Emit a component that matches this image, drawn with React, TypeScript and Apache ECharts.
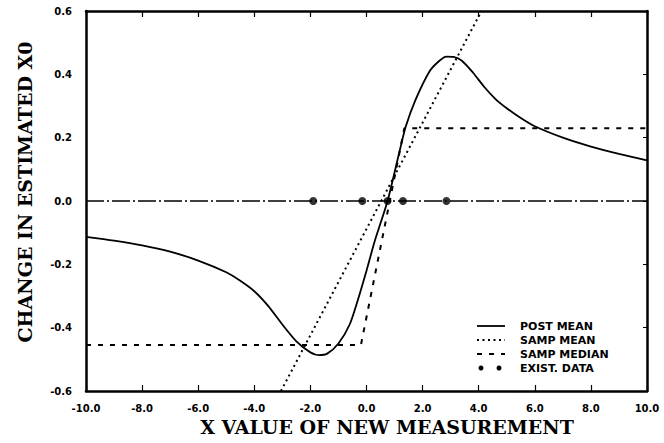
import React, { useEffect, useRef } from "react";
import * as echarts from "echarts";

const xTickLabels = ["-10.0", "-8.0", "-6.0", "-4.0", "-2.0", "0.0", "2.0", "4.0", "6.0", "8.0", "10.0"];
const yTickLabels = ["-0.6", "-0.4", "-0.2", "0.0", "0.2", "0.4", "0.6"];

const postMeanX = [-10, -9, -8, -7, -6, -5, -4.5, -4, -3.5, -3, -2.5, -2, -1.7, -1.4, -1, -0.6, -0.3, 0, 0.3, 0.75, 1.2, 1.4, 1.75, 2.25, 2.6, 2.85, 3.1, 3.4, 3.8, 4.2, 4.6, 5, 5.5, 6, 7, 8, 9, 10];
const postMeanY = [-0.113, -0.125, -0.14, -0.16, -0.188, -0.225, -0.252, -0.285, -0.332, -0.39, -0.443, -0.478, -0.487, -0.482, -0.45, -0.39, -0.31, -0.22, -0.125, 0, 0.165, 0.235, 0.32, 0.41, 0.443, 0.456, 0.455, 0.443, 0.405, 0.36, 0.322, 0.293, 0.262, 0.236, 0.2, 0.172, 0.149, 0.128];

const sampMeanX = [-3.05, 4.1];
const sampMeanY = [-0.6, 0.6];

const sampMedianX = [-10, -0.2, 1.35, 10];
const sampMedianY = [-0.455, -0.455, 0.23, 0.23];

const existDataX = [-1.9, -0.15, 0.75, 1.3, 2.85];
const existDataY = [0, 0, 0, 0, 0];

const zeroLineX = [-10, 10];
const zeroLineY = [0, 0];

const legendLabels = ["POST MEAN", "SAMP MEAN", "SAMP MEDIAN", "EXIST. DATA"];
const xTitle = "X VALUE OF NEW MEASUREMENT";
const yTitle = "CHANGE IN ESTIMATED X0";

const zip = (xs: number[], ys: number[]) => xs.map((x, i) => [x, ys[i]]);

export default function App() {
  const ref = useRef<HTMLDivElement>(null);
  useEffect(() => {
    if (!ref.current) return;
    const chart = echarts.init(ref.current, undefined, { renderer: "svg" });
    const tickFont = { fontFamily: "DejaVu Sans", fontWeight: "bold" as const, fontSize: 10, color: "#000" };
    const titleFontCss = "bold 19px 'DejaVu Serif'";
    const lx1 = 477, lx2 = 505, ltx = 520;
    const rows = [326, 340, 354, 368];
    const graphics: any[] = [
      { type: "line", shape: { x1: lx1, y1: rows[0], x2: lx2, y2: rows[0] }, style: { stroke: "#000", lineWidth: 1.8 } },
      { type: "line", shape: { x1: lx1, y1: rows[1], x2: lx2, y2: rows[1] }, style: { stroke: "#000", lineWidth: 2, lineDash: [2, 3.5] } },
      { type: "line", shape: { x1: lx1, y1: rows[2], x2: lx2, y2: rows[2] }, style: { stroke: "#000", lineWidth: 2, lineDash: [5, 7] } },
      { type: "circle", shape: { cx: lx1 + 4, cy: rows[3], r: 2.5 }, style: { fill: "#000" } },
      { type: "circle", shape: { cx: lx2 - 6, cy: rows[3], r: 2.5 }, style: { fill: "#000" } },
      ...legendLabels.map((t, i) => ({
        type: "text",
        x: ltx,
        y: rows[i],
        style: { text: t, fill: "#000", font: "bold 11px 'DejaVu Sans'", verticalAlign: "middle", align: "left" },
      })),
      {
        type: "text", x: 387, y: 427,
        style: { text: xTitle, fill: "#000", font: titleFontCss, align: "center", verticalAlign: "middle" },
      },
      {
        type: "text", x: 25, y: 192, rotation: Math.PI / 2,
        style: { text: yTitle, fill: "#000", font: titleFontCss, align: "center", verticalAlign: "middle" },
      },
    ];
    chart.setOption({
      animation: false,
      backgroundColor: "#fff",
      grid: { left: 86, right: 17, top: 11, bottom: 52 },
      xAxis: [
        {
          type: "value", min: -10, max: 10, interval: 2,
          axisLine: { show: true, onZero: false, lineStyle: { color: "#000", width: 2.5 } },
          axisTick: { show: true, inside: true, length: 6, lineStyle: { color: "#000", width: 1.2 } },
          axisLabel: { ...tickFont, margin: 12, formatter: (v: number) => xTickLabels[Math.round((v + 10) / 2)] ?? "" },
          splitLine: { show: false },
        },
        {
          type: "value", position: "top", min: -10, max: 10, interval: 2,
          axisLine: { show: true, onZero: false, lineStyle: { color: "#000", width: 2.5 } },
          axisTick: { show: true, inside: true, length: 6, lineStyle: { color: "#000", width: 1.2 } },
          axisLabel: { show: false }, splitLine: { show: false },
        },
      ],
      yAxis: [
        {
          type: "value", min: -0.6, max: 0.6, interval: 0.2,
          axisLine: { show: true, onZero: false, lineStyle: { color: "#000", width: 2.5 } },
          axisTick: { show: false },
          axisLabel: { ...tickFont, margin: 14, formatter: (v: number) => yTickLabels[Math.round((v + 0.6) / 0.2)] ?? "" },
          splitLine: { show: false },
        },
        {
          type: "value", position: "right", min: -0.6, max: 0.6, interval: 0.2,
          axisLine: { show: true, onZero: false, lineStyle: { color: "#000", width: 2.5 } },
          axisTick: { show: true, inside: true, length: 4, lineStyle: { color: "#000", width: 1 } },
          axisLabel: { show: false }, splitLine: { show: false },
        },
      ],
      series: [
        {
          name: "zero", type: "line", data: zip(zeroLineX, zeroLineY), symbol: "none",
          lineStyle: { color: "#000", width: 1.3, type: [18, 3, 2, 3] }, silent: true,
        },
        {
          name: "POST MEAN", type: "line", data: zip(postMeanX, postMeanY), symbol: "none",
          smooth: 0.25,
          lineStyle: { color: "#000", width: 1.8 },
        },
        {
          name: "SAMP MEAN", type: "line", data: zip(sampMeanX, sampMeanY), symbol: "none",
          lineStyle: { color: "#000", width: 2, type: [2, 3.5] },
        },
        {
          name: "SAMP MEDIAN", type: "line", data: zip(sampMedianX, sampMedianY), symbol: "none",
          lineStyle: { color: "#000", width: 2, type: [5, 7] },
        },
        {
          name: "EXIST. DATA", type: "scatter", data: zip(existDataX, existDataY), symbol: "circle", symbolSize: 8,
          itemStyle: { color: "#000" },
        },
      ],
      graphic: graphics,
    });
    return () => chart.dispose();
  }, []);
  return <div ref={ref} style={{ position: "fixed", left: 0, top: 0, width: 664, height: 443 }} />;
}
